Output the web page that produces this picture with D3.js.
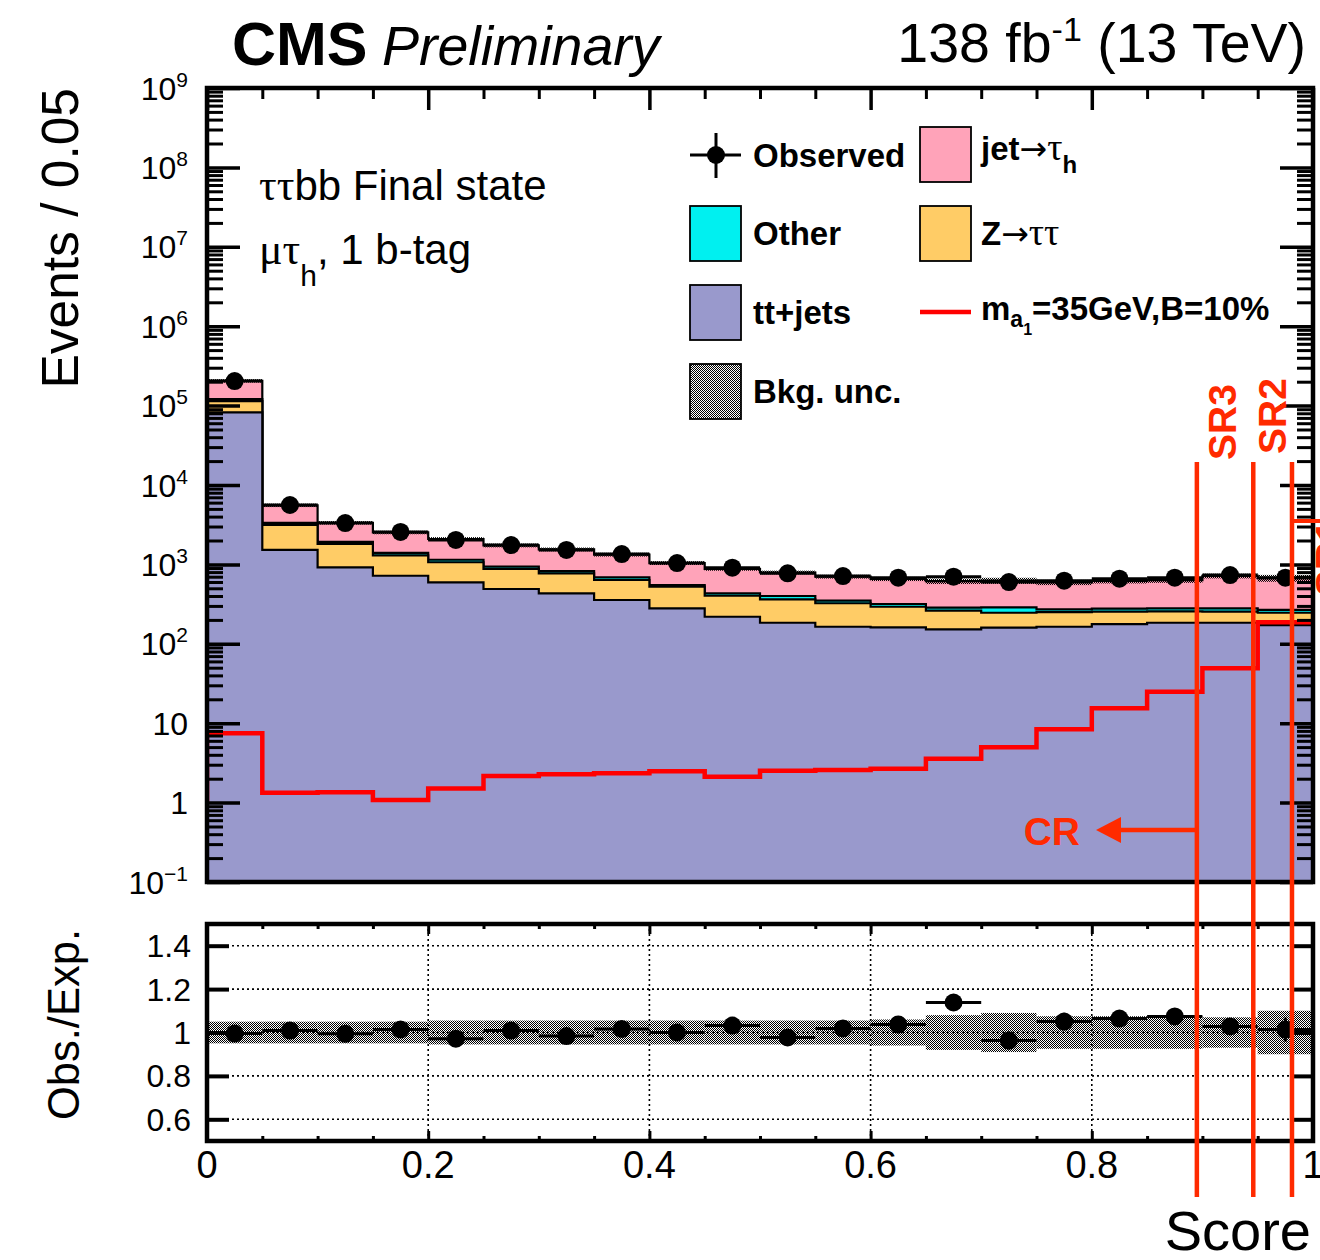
<!DOCTYPE html>
<html>
<head>
<meta charset="utf-8">
<script src="https://cdn.jsdelivr.net/npm/d3@7"></script>
<style>
  html, body { margin: 0; padding: 0; background: #ffffff; }
  svg { display: block; font-family: "Liberation Sans", Arial, Helvetica, sans-serif; }
</style>
</head>
<body>
<svg id="chart" width="1320" height="1260"></svg>
<script>
// ---- Data: BDT score distribution, 20 bins of width 0.05 ----
const binEdges = [0, 0.05, 0.1, 0.15, 0.2, 0.25, 0.3, 0.35, 0.4, 0.45, 0.5,
                  0.55, 0.6, 0.65, 0.7, 0.75, 0.8, 0.85, 0.9, 0.95, 1.0];

// background processes (events per bin), stacked bottom to top
const ttJets   = [82000, 1520, 920, 720, 595, 490, 432, 356, 280, 219, 184, 164, 161, 152, 160, 164, 177, 184, 184, 172];
const zTauTau  = [32000, 1620, 890, 580, 470, 385, 340, 280, 244, 184, 179, 160, 132, 109, 86, 87, 77, 72, 70, 74];
const otherBkg = [7000, 200, 110, 100, 80, 60, 52, 50, 26, 29, 37, 25, 24, 24, 42, 21, 23, 24, 25, 21];
const jetFakes = [84000, 2210, 1420, 1125, 945, 800, 721, 642, 490, 448, 391, 352, 339, 330, 335, 321, 344, 353, 436, 404];

// observed data
const observed = [204000, 5600, 3320, 2560, 2030, 1750, 1520, 1350, 1040, 908, 773, 714, 680, 700, 600, 623, 661, 680, 735, 680];

// relative background uncertainty per bin
const bkgUncRel = [0.05, 0.05, 0.05, 0.05, 0.055, 0.055, 0.055, 0.055, 0.055, 0.055, 0.055, 0.055, 0.06, 0.08, 0.09, 0.075, 0.075, 0.075, 0.07, 0.1];

// statistical uncertainty on obs./exp.
const ratioErr = [0.003, 0.014, 0.018, 0.02, 0.022, 0.024, 0.026, 0.027, 0.031, 0.033, 0.036, 0.038, 0.039, 0.038, 0.041, 0.04, 0.039, 0.038, 0.037, 0.055];

// signal m_a1 = 35 GeV, B = 10%
const signal = [7.46, 1.33, 1.35, 1.08, 1.51, 2.16, 2.27, 2.34, 2.48, 2.12, 2.52, 2.57, 2.67, 3.57, 4.97, 8.37, 15.4, 24.9, 49.1, 187];
const signalFloor = 1;

// category boundaries on the score
const regionCuts   = [0.895, 0.946, 0.981];
const regionLabels = ["SR3", "SR2", "SR1"];

// axis ticks
const xMajorTicks  = [0, 0.2, 0.4, 0.6, 0.8, 1.0];
const xTickLabels  = ["0", "0.2", "0.4", "0.6", "0.8", "1"];
const xMinorTicks  = [0.05, 0.1, 0.15, 0.25, 0.3, 0.35, 0.45, 0.5, 0.55, 0.65, 0.7, 0.75, 0.85, 0.9, 0.95];
const yDecades     = [-1, 0, 1, 2, 3, 4, 5, 6, 7, 8, 9];
const ratioTicks   = [0.6, 0.8, 1.0, 1.2, 1.4];
const ratioLabels  = ["0.6", "0.8", "1", "1.2", "1.4"];

// ---- Layout ----
const svg = d3.select("#chart");
const X0 = 207, X1 = 1313;
const MT = 88, MB = 882;      // main pad
const RT = 924, RB = 1141;    // ratio pad
const SERIF = '"Liberation Serif", "DejaVu Serif", serif';
const ARROW = '"DejaVu Sans", sans-serif';
const SR_RED = "#ff2a00";

const x  = d3.scaleLinear().domain([0, 1]).range([X0, X1]);
const y  = d3.scaleLog().domain([0.1, 1e9]).range([MB, MT]);
const yr = d3.scaleLinear().domain([0.5, 1.5]).range([RB, RT]);

const nBins = observed.length;
const total = d3.range(nBins).map(i => ttJets[i] + zTauTau[i] + otherBkg[i] + jetFakes[i]);
const ratio = observed.map((o, i) => o / total[i]);

const defs = svg.append("defs");
const pat = defs.append("pattern").attr("id", "uncPattern")
  .attr("patternUnits", "userSpaceOnUse").attr("width", 2).attr("height", 2);
pat.append("rect").attr("x", 0).attr("y", 0).attr("width", 1).attr("height", 1).attr("fill", "#000").attr("shape-rendering", "crispEdges");
pat.append("rect").attr("x", 1).attr("y", 1).attr("width", 1).attr("height", 1).attr("fill", "#000").attr("shape-rendering", "crispEdges");

defs.append("clipPath").attr("id", "clipMain").append("rect")
  .attr("x", X0).attr("y", MT).attr("width", X1 - X0).attr("height", MB - MT);
defs.append("clipPath").attr("id", "clipRatio").append("rect")
  .attr("x", X0).attr("y", RT).attr("width", X1 - X0).attr("height", RB - RT);

// ---- Main pad: stacked histograms ----
const layers = [
  { vals: ttJets,   color: "#9999cc" },
  { vals: zTauTau,  color: "#ffcc66" },
  { vals: otherBkg, color: "#00f0f0" },
  { vals: jetFakes, color: "#ffa3b9" }
];
let running = new Array(nBins).fill(0);
layers.forEach(l => {
  running = running.map((r, i) => r + l.vals[i]);
  l.cum = running.slice();
});

const stepPts = vals => binEdges.map((e, i) => ({ x: e, v: vals[Math.min(i, vals.length - 1)] }));
const areaStep = d3.area().curve(d3.curveStepAfter)
  .x(d => x(d.x)).y0(y(0.1)).y1(d => y(d.v));
const lineStep = d3.line().curve(d3.curveStepAfter)
  .x(d => x(d.x)).y(d => y(d.v));

const gMain = svg.append("g").attr("clip-path", "url(#clipMain)");
layers.slice().reverse().forEach(l => {
  gMain.append("path").attr("d", areaStep(stepPts(l.cum))).attr("fill", l.color);
  gMain.append("path").attr("d", lineStep(stepPts(l.cum)))
    .attr("fill", "none").attr("stroke", "#000").attr("stroke-width", 2.2);
});

// background uncertainty band
gMain.selectAll("rect.unc").data(total).join("rect")
  .attr("x", (d, i) => x(binEdges[i]))
  .attr("width", (d, i) => x(binEdges[i + 1]) - x(binEdges[i]))
  .attr("y", (d, i) => y(d * (1 + bkgUncRel[i])))
  .attr("height", (d, i) => y(d * (1 - bkgUncRel[i])) - y(d * (1 + bkgUncRel[i])))
  .attr("fill", "url(#uncPattern)");

// signal histogram
const sigPts = [{ x: 0, v: signalFloor }].concat(stepPts(signal));
gMain.append("path").attr("d", lineStep(sigPts))
  .attr("fill", "none").attr("stroke", "#ff0000").attr("stroke-width", 4.5);

// observed data
const gObs = gMain.append("g");
observed.forEach((o, i) => {
  const cx = x((binEdges[i] + binEdges[i + 1]) / 2);
  const e = ratioErr[i] * total[i];
  gObs.append("line").attr("x1", x(binEdges[i])).attr("x2", x(binEdges[i + 1]))
    .attr("y1", y(o)).attr("y2", y(o)).attr("stroke", "#000").attr("stroke-width", 3);
  gObs.append("line").attr("x1", cx).attr("x2", cx)
    .attr("y1", y(o + e)).attr("y2", y(Math.max(o - e, 0.1))).attr("stroke", "#000").attr("stroke-width", 3);
  gObs.append("circle").attr("cx", cx).attr("cy", y(o)).attr("r", 9).attr("fill", "#000");
});

// ---- Main pad axes ----
const minorLog = [];
yDecades.slice(0, -1).forEach(e => { for (let m = 2; m <= 9; m++) minorLog.push(m * Math.pow(10, e)); });
const majorLog = yDecades.map(e => Math.pow(10, e));

function styleAxis(g, w) {
  g.select(".domain").remove();
  g.selectAll(".tick line").attr("stroke", "#000").attr("stroke-width", w);
  g.selectAll(".tick text").remove();
}
svg.append("g").attr("transform", `translate(${X0},0)`)
  .call(d3.axisRight(y).tickValues(majorLog).tickSize(33).tickFormat(""))
  .call(g => styleAxis(g, 3.5));
svg.append("g").attr("transform", `translate(${X0},0)`)
  .call(d3.axisRight(y).tickValues(minorLog).tickSize(16).tickFormat(""))
  .call(g => styleAxis(g, 3));
svg.append("g").attr("transform", `translate(${X1},0)`)
  .call(d3.axisLeft(y).tickValues(majorLog).tickSize(33).tickFormat(""))
  .call(g => styleAxis(g, 3.5));
svg.append("g").attr("transform", `translate(${X1},0)`)
  .call(d3.axisLeft(y).tickValues(minorLog).tickSize(16).tickFormat(""))
  .call(g => styleAxis(g, 3));
svg.append("g").attr("transform", `translate(0,${MT})`)
  .call(d3.axisBottom(x).tickValues(xMajorTicks).tickSize(22).tickFormat(""))
  .call(g => styleAxis(g, 3.5));
svg.append("g").attr("transform", `translate(0,${MT})`)
  .call(d3.axisBottom(x).tickValues(xMinorTicks).tickSize(11).tickFormat(""))
  .call(g => styleAxis(g, 3));

svg.append("rect").attr("x", X0).attr("y", MT).attr("width", X1 - X0).attr("height", MB - MT)
  .attr("fill", "none").attr("stroke", "#000").attr("stroke-width", 4.5);

// y tick labels (powers of ten)
yDecades.forEach(e => {
  const t = svg.append("text").attr("x", 188).attr("y", y(Math.pow(10, e)) + 11.5)
    .attr("text-anchor", "end").attr("font-size", 32).attr("fill", "#000");
  if (e === 0) t.text("1");
  else if (e === 1) t.text("10");
  else {
    t.append("tspan").text("10");
    t.append("tspan").attr("dy", -13).attr("font-size", 21).text(e < 0 ? "\u2212" + (-e) : String(e));
  }
});

// ---- Ratio pad ----
const gRat = svg.append("g").attr("clip-path", "url(#clipRatio)");
gRat.selectAll("rect.band").data(bkgUncRel).join("rect")
  .attr("x", (d, i) => x(binEdges[i]))
  .attr("width", (d, i) => x(binEdges[i + 1]) - x(binEdges[i]))
  .attr("y", d => yr(1 + d))
  .attr("height", d => yr(1 - d) - yr(1 + d))
  .attr("fill", "url(#uncPattern)");

// dotted grid
ratioTicks.forEach(v => {
  gRat.append("line").attr("x1", X0).attr("x2", X1).attr("y1", yr(v)).attr("y2", yr(v))
    .attr("stroke", "#000").attr("stroke-width", 1.6).attr("stroke-dasharray", "2,3");
});
xMajorTicks.slice(1, -1).forEach(v => {
  gRat.append("line").attr("x1", x(v)).attr("x2", x(v)).attr("y1", RT).attr("y2", RB)
    .attr("stroke", "#000").attr("stroke-width", 1.6).attr("stroke-dasharray", "2,3");
});

ratio.forEach((r, i) => {
  const cx = x((binEdges[i] + binEdges[i + 1]) / 2);
  gRat.append("line").attr("x1", x(binEdges[i])).attr("x2", x(binEdges[i + 1]))
    .attr("y1", yr(r)).attr("y2", yr(r)).attr("stroke", "#000").attr("stroke-width", 3);
  gRat.append("line").attr("x1", cx).attr("x2", cx)
    .attr("y1", yr(r + ratioErr[i])).attr("y2", yr(r - ratioErr[i])).attr("stroke", "#000").attr("stroke-width", 3);
  gRat.append("circle").attr("cx", cx).attr("cy", yr(r)).attr("r", 9).attr("fill", "#000");
});

svg.append("g").attr("transform", `translate(${X0},0)`)
  .call(d3.axisRight(yr).tickValues(ratioTicks).tickSize(22).tickFormat(""))
  .call(g => styleAxis(g, 4));
svg.append("g").attr("transform", `translate(${X1},0)`)
  .call(d3.axisLeft(yr).tickValues(ratioTicks).tickSize(22).tickFormat(""))
  .call(g => styleAxis(g, 4));
svg.append("g").attr("transform", `translate(0,${RT})`)
  .call(d3.axisBottom(x).tickValues(xMajorTicks).tickSize(10).tickFormat(""))
  .call(g => styleAxis(g, 3));
svg.append("g").attr("transform", `translate(0,${RT})`)
  .call(d3.axisBottom(x).tickValues(xMinorTicks).tickSize(5).tickFormat(""))
  .call(g => styleAxis(g, 3));
svg.append("g").attr("transform", `translate(0,${RB})`)
  .call(d3.axisTop(x).tickValues(xMajorTicks).tickSize(10).tickFormat(""))
  .call(g => styleAxis(g, 3));
svg.append("g").attr("transform", `translate(0,${RB})`)
  .call(d3.axisTop(x).tickValues(xMinorTicks).tickSize(5).tickFormat(""))
  .call(g => styleAxis(g, 3));

svg.append("rect").attr("x", X0).attr("y", RT).attr("width", X1 - X0).attr("height", RB - RT)
  .attr("fill", "none").attr("stroke", "#000").attr("stroke-width", 4.5);

ratioTicks.forEach((v, i) => {
  svg.append("text").attr("x", 191).attr("y", yr(v) + 11.5).attr("text-anchor", "end")
    .attr("font-size", 32).attr("fill", "#000").text(ratioLabels[i]);
});
xMajorTicks.forEach((v, i) => {
  svg.append("text").attr("x", x(v)).attr("y", 1178).attr("text-anchor", "middle")
    .attr("font-size", 38).attr("fill", "#000").text(xTickLabels[i]);
});

// ---- Axis titles ----
svg.append("text").attr("transform", "translate(78,88) rotate(-90)")
  .attr("text-anchor", "end").attr("font-size", 51.5).text("Events / 0.05");
svg.append("text").attr("transform", "translate(79,929) rotate(-90)")
  .attr("text-anchor", "end").attr("font-size", 43.5).text("Obs./Exp.");
svg.append("text").attr("x", 1311).attr("y", 1250).attr("text-anchor", "end")
  .attr("font-size", 56).text("Score");

// ---- Header ----
svg.append("text").attr("x", 232).attr("y", 65).attr("font-size", 61).attr("font-weight", "bold").text("CMS");
svg.append("text").attr("x", 382).attr("y", 65).attr("font-size", 55.5).attr("font-style", "italic").text("Preliminary");
const lumi = svg.append("text").attr("x", 1306).attr("y", 62).attr("text-anchor", "end").attr("font-size", 55.5);
lumi.append("tspan").text("138 fb");
lumi.append("tspan").attr("dy", -21).attr("font-size", 34).text("-1");
lumi.append("tspan").attr("dy", 21).text(" (13 TeV)");

// ---- Channel annotation ----
const t1 = svg.append("text").attr("x", 259).attr("y", 200).attr("font-size", 42);
t1.append("tspan").attr("font-family", SERIF).attr("font-size", 44).text("\u03c4\u03c4");
t1.append("tspan").text("bb Final state");
const t2 = svg.append("text").attr("x", 259).attr("y", 264).attr("font-size", 42);
t2.append("tspan").attr("font-family", SERIF).attr("font-size", 44).text("\u03bc\u03c4");
t2.append("tspan").attr("dy", 22).attr("font-size", 30).text("h");
t2.append("tspan").attr("dy", -22).text(", 1 b-tag");

// ---- Legend ----
const gLeg = svg.append("g").attr("font-size", 33).attr("font-weight", "bold");
// observed marker
gLeg.append("line").attr("x1", 690).attr("x2", 741).attr("y1", 155).attr("y2", 155).attr("stroke", "#000").attr("stroke-width", 3);
gLeg.append("line").attr("x1", 716).attr("x2", 716).attr("y1", 133).attr("y2", 178).attr("stroke", "#000").attr("stroke-width", 3);
gLeg.append("circle").attr("cx", 716).attr("cy", 155).attr("r", 9).attr("fill", "#000");
gLeg.append("text").attr("x", 753).attr("y", 167).text("Observed");

const boxes = [
  { x: 690, y: 206, fill: "#00f0f0", label: "Other" },
  { x: 690, y: 285, fill: "#9999cc", label: "tt+jets" },
  { x: 690, y: 364, fill: "url(#uncPattern)", label: "Bkg. unc." },
  { x: 920, y: 127, fill: "#ffa3b9", label: null },
  { x: 920, y: 206, fill: "#ffcc66", label: null }
];
boxes.forEach(b => {
  gLeg.append("rect").attr("x", b.x).attr("y", b.y).attr("width", 51).attr("height", 55)
    .attr("fill", b.fill).attr("stroke", "#000").attr("stroke-width", 1.8);
  if (b.label) gLeg.append("text").attr("x", b.x + 63).attr("y", b.y + 39).text(b.label);
});
const lj = gLeg.append("text").attr("x", 981).attr("y", 160);
lj.append("tspan").text("jet");
lj.append("tspan").attr("font-weight", "normal").attr("font-family", ARROW).attr("font-size", 33).text("\u2192");
lj.append("tspan").attr("font-weight", "normal").attr("font-family", SERIF).attr("font-size", 38).text("\u03c4");
lj.append("tspan").attr("dy", 13).attr("font-size", 24).text("h");
const lz = gLeg.append("text").attr("x", 981).attr("y", 245);
lz.append("tspan").text("Z");
lz.append("tspan").attr("font-weight", "normal").attr("font-family", ARROW).attr("font-size", 33).text("\u2192");
lz.append("tspan").attr("font-weight", "normal").attr("font-family", SERIF).attr("font-size", 38).text("\u03c4\u03c4");
gLeg.append("line").attr("x1", 920).attr("x2", 971).attr("y1", 312).attr("y2", 312).attr("stroke", "#ff0000").attr("stroke-width", 4.5);
const ls = gLeg.append("text").attr("x", 981).attr("y", 320);
ls.append("tspan").text("m");
ls.append("tspan").attr("dy", 7).attr("font-size", 23).text("a");
ls.append("tspan").attr("dy", 8).attr("font-size", 16).text("1");
ls.append("tspan").attr("dy", -15).text("=35GeV,B=10%");

// ---- Region boundaries ----
const regTop = 462, regBottom = 1197;
regionCuts.forEach(c => {
  svg.append("line").attr("x1", x(c)).attr("x2", x(c)).attr("y1", regTop).attr("y2", regBottom)
    .attr("stroke", SR_RED).attr("stroke-width", 4.5);
});
svg.append("line").attr("x1", x(regionCuts[2])).attr("x2", 1330).attr("y1", 521).attr("y2", 521)
  .attr("stroke", SR_RED).attr("stroke-width", 4);
const srLabelPos = [{ x: 1236, y: 460 }, { x: 1286, y: 454 }, { x: 1343, y: 596 }];
regionLabels.forEach((lab, i) => {
  svg.append("text").attr("transform", `translate(${srLabelPos[i].x},${srLabelPos[i].y}) rotate(-90)`)
    .attr("font-size", 39).attr("font-weight", "bold").attr("fill", SR_RED).text(lab);
});
// control region arrow
svg.append("line").attr("x1", x(regionCuts[0])).attr("x2", 1118).attr("y1", 830).attr("y2", 830)
  .attr("stroke", SR_RED).attr("stroke-width", 4.5);
svg.append("path").attr("d", "M1096,830 L1121,817 L1121,843 Z").attr("fill", SR_RED);
svg.append("text").attr("x", 1080).attr("y", 845).attr("text-anchor", "end")
  .attr("font-size", 39).attr("font-weight", "bold").attr("fill", SR_RED).text("CR");
</script>
</body>
</html>
